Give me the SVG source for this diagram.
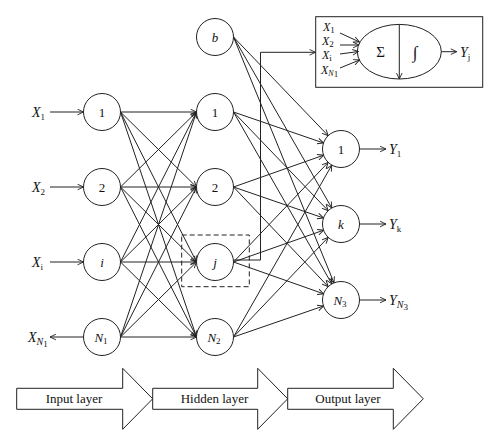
<svg xmlns="http://www.w3.org/2000/svg" width="500" height="447" viewBox="0 0 500 447">
<style>
text{font-family:"Liberation Serif","Times New Roman",serif;fill:#111}
.it{font-style:italic}
.n{font-size:13px;text-anchor:middle}
.x{font-size:14px;font-style:italic}
.bx{font-size:12px;font-style:italic}
.c{fill:#fff;stroke:#222;stroke-width:1}
.a{stroke:#222;stroke-width:1;fill:none;marker-end:url(#ah)}
.sub{font-size:9px;font-style:normal}
.ly{font-size:13px;text-anchor:middle}
</style>
<defs>
<marker id="ah" viewBox="0 0 10 10" refX="9.5" refY="5" markerWidth="7" markerHeight="7" orient="auto" markerUnits="userSpaceOnUse">
<path d="M1,1 L9.5,5 L1,9" fill="none" stroke="#222" stroke-width="1.3"/>
</marker>
</defs>
<rect width="500" height="447" fill="#fff"/>
<g id="connectors">
<line class="a" x1="50" y1="112" x2="83.5" y2="112"/>
<line class="a" x1="50" y1="187" x2="83.5" y2="187"/>
<line class="a" x1="50" y1="262" x2="83.5" y2="262"/>
<line class="a" x1="83.5" y1="337" x2="50" y2="337"/>
<line class="a" x1="120.5" y1="112" x2="196.5" y2="112"/>
<line class="a" x1="120.5" y1="112" x2="196.5" y2="187"/>
<line class="a" x1="120.5" y1="112" x2="196.5" y2="262"/>
<line class="a" x1="120.5" y1="112" x2="196.5" y2="337"/>
<line class="a" x1="120.5" y1="187" x2="196.5" y2="112"/>
<line class="a" x1="120.5" y1="187" x2="196.5" y2="187"/>
<line class="a" x1="120.5" y1="187" x2="196.5" y2="262"/>
<line class="a" x1="120.5" y1="187" x2="196.5" y2="337"/>
<line class="a" x1="120.5" y1="262" x2="196.5" y2="112"/>
<line class="a" x1="120.5" y1="262" x2="196.5" y2="187"/>
<line class="a" x1="120.5" y1="262" x2="196.5" y2="262"/>
<line class="a" x1="120.5" y1="262" x2="196.5" y2="337"/>
<line class="a" x1="120.5" y1="337" x2="196.5" y2="112"/>
<line class="a" x1="120.5" y1="337" x2="196.5" y2="187"/>
<line class="a" x1="120.5" y1="337" x2="196.5" y2="262"/>
<line class="a" x1="120.5" y1="337" x2="196.5" y2="337"/>
<line class="a" x1="233.5" y1="37" x2="328.2" y2="135.7"/>
<line class="a" x1="233.5" y1="37" x2="331.8" y2="208"/>
<line class="a" x1="233.5" y1="37" x2="334" y2="282.9"/>
<line class="a" x1="233.5" y1="112" x2="323.5" y2="143"/>
<line class="a" x1="233.5" y1="112" x2="328.2" y2="210.7"/>
<line class="a" x1="233.5" y1="112" x2="331.8" y2="283.9"/>
<line class="a" x1="233.5" y1="187" x2="323.6" y2="155.2"/>
<line class="a" x1="233.5" y1="187" x2="323.5" y2="218"/>
<line class="a" x1="233.5" y1="187" x2="328.2" y2="286.6"/>
<line class="a" x1="233.5" y1="262" x2="328.2" y2="162.4"/>
<line class="a" x1="233.5" y1="262" x2="323.6" y2="230.2"/>
<line class="a" x1="233.5" y1="262" x2="323.6" y2="293.8"/>
<line class="a" x1="233.5" y1="337" x2="331.8" y2="165.1"/>
<line class="a" x1="233.5" y1="337" x2="328.2" y2="237.4"/>
<line class="a" x1="233.5" y1="337" x2="323.5" y2="306"/>
<line class="a" x1="359.5" y1="149" x2="386" y2="149"/>
<line class="a" x1="359.5" y1="224" x2="386" y2="224"/>
<line class="a" x1="359.5" y1="300" x2="386" y2="300"/>
<polyline class="a" points="234,260 260.5,260 260.5,52.3 315.5,52.3"/>
</g>
<g id="detail-box">
<rect x="315.7" y="16.7" width="167" height="70.6" fill="#fff" stroke="#222" stroke-width="1"/>
<ellipse cx="399.3" cy="51.7" rx="42" ry="27.3" fill="#fff" stroke="#222" stroke-width="1"/>
<line class="a" x1="399.3" y1="24.4" x2="399.3" y2="79"/>
<line class="a" x1="340" y1="33" x2="359.5" y2="42"/>
<line class="a" x1="340" y1="45" x2="359" y2="45"/>
<line class="a" x1="340" y1="54" x2="358.5" y2="51.5"/>
<line class="a" x1="340" y1="68" x2="359.5" y2="60"/>
<line class="a" x1="441.3" y1="51.7" x2="456.7" y2="51.7"/>
<text class="bx" x="323" y="31">X<tspan class="sub" font-size="7" dy="2">1</tspan></text>
<text class="bx" x="322" y="45">X<tspan class="sub" font-size="7" dy="2">2</tspan></text>
<text class="bx" x="322" y="59">X<tspan class="sub" font-size="7" dy="2" font-style="italic">i</tspan></text>
<text class="bx" x="321" y="74">X<tspan font-size="8" dy="2">N</tspan><tspan class="sub" font-size="6" dy="1">1</tspan></text>
<text x="380.7" y="57" font-size="15" text-anchor="middle">Σ</text>
<text x="415" y="58" font-size="17" text-anchor="middle">∫</text>
<text class="x" x="460" y="57">Y<tspan class="sub" dy="3" font-style="italic">j</tspan></text>
</g>
<g id="input-labels">
<text class="x" x="32" y="117">X<tspan class="sub" dy="3">1</tspan></text>
<text class="x" x="32" y="192">X<tspan class="sub" dy="3">2</tspan></text>
<text class="x" x="32" y="267">X<tspan class="sub" dy="3" font-style="italic">i</tspan></text>
<text class="x" x="28" y="342">X<tspan font-size="10" dy="3">N</tspan><tspan class="sub" font-size="7" dy="2">1</tspan></text>
</g>
<g id="in1"><circle class="c" cx="102" cy="112" r="18.5"/><text class="n" x="102" y="116.5">1</text></g>
<g id="in2"><circle class="c" cx="102" cy="187" r="18.5"/><text class="n" x="102" y="191.5">2</text></g>
<g id="ini"><circle class="c" cx="102" cy="262" r="18.5"/><text class="n it" x="102" y="266.5">i</text></g>
<g id="inN1"><circle class="c" cx="102" cy="337" r="18.5"/><text class="n it" x="101" y="341.5">N<tspan class="sub" dy="2" font-size="9">1</tspan></text></g>
<g id="hb"><circle class="c" cx="215" cy="37" r="18.5"/><text class="n it" x="215" y="41.5">b</text></g>
<g id="h1"><circle class="c" cx="215" cy="112" r="18.5"/><text class="n" x="215" y="116.5">1</text></g>
<g id="h2"><circle class="c" cx="215" cy="187" r="18.5"/><text class="n" x="215" y="191.5">2</text></g>
<g id="hj"><circle class="c" cx="215" cy="262" r="18.5"/><text class="n it" x="215" y="266.5">j</text>
<rect x="181.7" y="235" width="67.6" height="51.7" fill="none" stroke="#222" stroke-width="1" stroke-dasharray="5,3"/></g>
<g id="hN2"><circle class="c" cx="215" cy="337" r="18.5"/><text class="n it" x="214" y="341.5">N<tspan class="sub" dy="2" font-size="9">2</tspan></text></g>
<g id="o1"><circle class="c" cx="341" cy="149" r="18.5"/><text class="n" x="341" y="153.5">1</text></g>
<g id="ok"><circle class="c" cx="341" cy="224" r="18.5"/><text class="n it" x="341" y="228.5">k</text></g>
<g id="oN3"><circle class="c" cx="341" cy="300" r="18.5"/><text class="n it" x="340" y="304.5">N<tspan class="sub" dy="2" font-size="9">3</tspan></text></g>
<g id="output-labels">
<text class="x" x="389" y="154">Y<tspan class="sub" dy="3">1</tspan></text>
<text class="x" x="389" y="229">Y<tspan class="sub" dy="3" font-style="italic">k</tspan></text>
<text class="x" x="389" y="305">Y<tspan font-size="10" dy="3">N</tspan><tspan class="sub" font-size="7" dy="2">3</tspan></text>
</g>
<g id="layer-input"><polygon points="16.7,388.3 122.7,388.3 122.7,368.3 152.7,398.8 122.7,429.3 122.7,409.3 16.7,409.3" fill="#fff" stroke="#222" stroke-width="1"/><text class="ly" x="74" y="403">Input layer</text></g>
<g id="layer-hidden"><polygon points="152.7,388.3 257.7,388.3 257.7,368.3 287.7,398.8 257.7,429.3 257.7,409.3 152.7,409.3" fill="#fff" stroke="#222" stroke-width="1"/><text class="ly" x="214.5" y="403">Hidden layer</text></g>
<g id="layer-output"><polygon points="287.7,388.3 393.3,388.3 393.3,368.3 423.3,398.8 393.3,429.3 393.3,409.3 287.7,409.3" fill="#fff" stroke="#222" stroke-width="1"/><text class="ly" x="348" y="403">Output layer</text></g>
</svg>
